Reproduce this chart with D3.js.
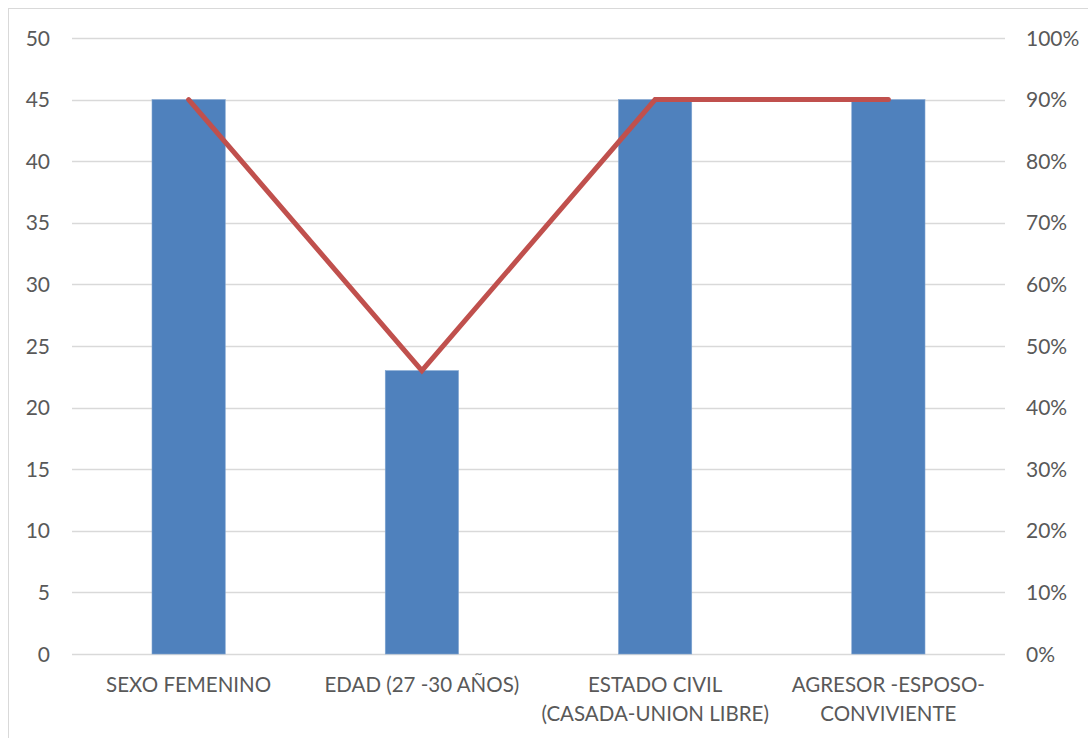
<!DOCTYPE html>
<html>
<head>
<meta charset="utf-8">
<script src="https://cdn.jsdelivr.net/npm/d3@7"></script>
<style>
  html, body { margin: 0; padding: 0; background: #fff; }
  svg { display: block; }
  text { font-family: Lato, "Open Sans", sans-serif; fill: #595959; }
</style>
</head>
<body>
<svg id="chart" width="1088" height="738"></svg>
<script>
// Categories (multi-line labels split by "\n")
const categories = [
  "SEXO FEMENINO",
  "EDAD (27 -30 AÑOS)",
  "ESTADO CIVIL\n(CASADA-UNION LIBRE)",
  "AGRESOR -ESPOSO-\nCONVIVIENTE"
];
// Counts (left axis)
const counts = [45, 23, 45, 45];
// Percentages (right axis)
const percents = [0.90, 0.46, 0.90, 0.90];
// Axis ticks
const leftTicks = [0, 5, 10, 15, 20, 25, 30, 35, 40, 45, 50];
const rightTicks = [0, 0.1, 0.2, 0.3, 0.4, 0.5, 0.6, 0.7, 0.8, 0.9, 1.0];

const svg = d3.select("#chart");
const W = 1088, H = 738;
const plot = { left: 72, right: 1005, top: 38, bottom: 654 };

// Outer chart frame
svg.append("rect")
  .attr("x", 8.5).attr("y", 8.5)
  .attr("width", W + 10).attr("height", H + 10)
  .attr("fill", "#fff").attr("stroke", "#d9d9d9").attr("stroke-width", 1);

const x = d3.scaleBand().domain(categories).range([plot.left, plot.right]).paddingInner(0.686).paddingOuter(0.343);
const xc = d3.scaleBand().domain(categories).range([plot.left, plot.right]);
const yL = d3.scaleLinear().domain([0, 50]).range([plot.bottom, plot.top]);
const yR = d3.scaleLinear().domain([0, 1]).range([plot.bottom, plot.top]);

// Gridlines
svg.append("g").selectAll("line").data(leftTicks).join("line")
  .attr("x1", plot.left).attr("x2", plot.right)
  .attr("y1", d => Math.round(yL(d)) + 0.5).attr("y2", d => Math.round(yL(d)) + 0.5)
  .attr("stroke", "#d9d9d9").attr("stroke-width", 1.5);

// Bars
svg.append("g").selectAll("rect").data(counts).join("rect")
  .attr("x", (d, i) => x(categories[i]))
  .attr("width", x.bandwidth())
  .attr("y", d => yL(d))
  .attr("height", d => yL(0) - yL(d))
  .attr("fill", "#4f81bd")
  .attr("stroke", "#7fa3d0").attr("stroke-width", 0.6);

// Line series
const line = d3.line()
  .x((d, i) => xc(categories[i]) + xc.bandwidth() / 2)
  .y(d => yR(d));
svg.append("path").datum(percents)
  .attr("d", line)
  .attr("fill", "none")
  .attr("stroke", "#c0504d")
  .attr("stroke-width", 5)
  .attr("stroke-linecap", "round")
  .attr("stroke-linejoin", "miter");

// Left axis labels
svg.append("g").selectAll("text").data(leftTicks).join("text")
  .attr("x", 50).attr("y", d => yL(d))
  .attr("dy", "0.36em")
  .attr("text-anchor", "end")
  .attr("font-size", 21)
  .text(d => d);

// Right axis labels
const pct = d3.format(".0%");
svg.append("g").selectAll("text").data(rightTicks).join("text")
  .attr("x", 1026).attr("y", d => yR(d))
  .attr("dy", "0.36em")
  .attr("text-anchor", "start")
  .attr("font-size", 21)
  .text(d => pct(d));

// Category labels
const lab = svg.append("g").selectAll("text").data(categories).join("text")
  .attr("text-anchor", "middle")
  .attr("font-size", 20.5)
  .attr("transform", d => `translate(${xc(d) + xc.bandwidth() / 2},685)`);
lab.selectAll("tspan").data(d => d.split("\n")).join("tspan")
  .attr("x", 0)
  .attr("y", (d, i) => i * 28.5)
  .attr("dy", "0.36em")
  .text(d => d);
</script>
</body>
</html>
